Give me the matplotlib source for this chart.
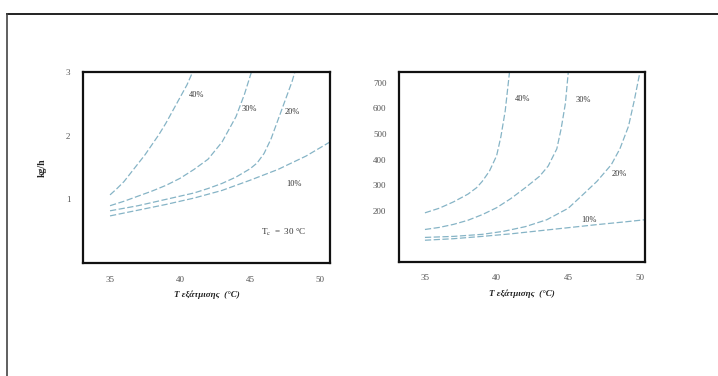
import matplotlib
matplotlib.use("Agg")
import matplotlib.pyplot as plt
from matplotlib.lines import Line2D

# ---- data ----
# left panel: kg/h against temperature, one curve per percentage
left_40_x = [35, 35.5, 36, 36.5, 37, 37.5, 38, 38.5, 39, 39.5, 40, 40.5, 40.9]
left_40_y = [1.07, 1.17, 1.28, 1.42, 1.56, 1.7, 1.86, 2.02, 2.2, 2.4, 2.6, 2.8, 3.0]
left_30_x = [35, 36, 37, 38, 39, 40, 41, 42, 43, 44, 44.6, 45.1]
left_30_y = [0.9, 0.97, 1.05, 1.13, 1.22, 1.33, 1.47, 1.63, 1.9, 2.3, 2.65, 3.0]
left_20_x = [35, 36, 37, 38, 39, 40, 41, 42, 43, 44, 45, 45.5, 46, 46.5, 47, 47.5, 48, 48.2]
left_20_y = [0.82, 0.86, 0.9, 0.95, 1.0, 1.05, 1.1, 1.17, 1.25, 1.35, 1.48, 1.57,
             1.72, 1.95, 2.25, 2.55, 2.85, 3.0]
left_10_x = [35, 37, 39, 41, 43, 45, 47, 49, 50.7]
left_10_y = [0.74, 0.83, 0.92, 1.02, 1.14, 1.3, 1.47, 1.68, 1.9]

# right panel
right_40_x = [35, 36, 37, 38, 38.6, 39, 39.5, 40, 40.3, 40.6, 40.9]
right_40_y = [192, 210, 235, 265, 290, 315, 355, 415, 490, 590, 742]
right_30_x = [35, 36, 37, 38, 39, 40, 41, 42, 43, 43.6, 44.2, 44.5, 44.8, 45.0]
right_30_y = [127, 135, 147, 163, 185, 212, 248, 290, 335, 375, 442, 520, 620, 742]
right_20_x = [35, 37, 39, 40.5, 42, 43.5, 45, 46, 47, 48, 48.6, 49.2, 49.6, 50]
right_20_y = [96, 100, 108, 120, 138, 165, 210, 262, 315, 380, 442, 530, 630, 742]
right_10_x = [35, 37, 39, 41, 43, 45, 47, 49, 50.35]
right_10_y = [85, 91, 100, 110, 122, 134, 146, 157, 165]

x_ticks = [35, 40, 45, 50]
left_yticks = [1, 2, 3]
right_yticks = [200, 300, 400, 500, 600, 700]
x_label = "T εξάτμισης  (°C)"

plt.rcParams['font.family'] = ['Liberation Serif', 'DejaVu Serif']
plt.rcParams['mathtext.fontset'] = 'stix'

line_col = '#86b4c6'
txt_col = '#333333'

fig = plt.figure(figsize=(7.18, 3.76), dpi=100)
fig.patch.set_facecolor('white')

ax1 = fig.add_axes([0.1156, 0.3005, 0.344, 0.508])
ax2 = fig.add_axes([0.5557, 0.3032, 0.3426, 0.5053])

# left panel curves
for xs, ys in [(left_40_x, left_40_y), (left_30_x, left_30_y),
               (left_20_x, left_20_y), (left_10_x, left_10_y)]:
    ax1.plot(xs, ys, color=line_col, lw=0.9, ls=(0, (5, 2)))
ax1.set_xlim(33.07, 50.71)
ax1.set_ylim(0, 3.0)
ax1.set_yticks(left_yticks)
ax1.set_xticks(x_ticks)
ax1.set_ylabel("kg/h", fontsize=7, fontweight='bold', labelpad=14, color='#222')

ax1.text(40.6, 2.6, "40%", fontsize=6, color=txt_col)
ax1.text(44.4, 2.39, "30%", fontsize=6, color=txt_col)
ax1.text(47.5, 2.34, "20%", fontsize=6, color=txt_col)
ax1.text(47.6, 1.21, "10%", fontsize=6, color=txt_col)
ax1.text(45.8, 0.45, "T$_{\\rm c}$  =  30 °C", fontsize=6.5, color=txt_col)

# right panel curves
for xs, ys in [(right_40_x, right_40_y), (right_30_x, right_30_y),
               (right_20_x, right_20_y), (right_10_x, right_10_y)]:
    ax2.plot(xs, ys, color=line_col, lw=0.9, ls=(0, (5, 2)))
ax2.set_xlim(33.19, 50.35)
ax2.set_ylim(0, 742)
ax2.set_yticks(right_yticks)
ax2.set_xticks(x_ticks)

ax2.text(41.3, 630, "40%", fontsize=6, color=txt_col)
ax2.text(45.5, 625, "30%", fontsize=6, color=txt_col)
ax2.text(48.0, 335, "20%", fontsize=6, color=txt_col)
ax2.text(45.9, 158, "10%", fontsize=6, color=txt_col)

for ax in (ax1, ax2):
    for s in ax.spines.values():
        s.set_linewidth(1.6)
        s.set_color('#111111')
    ax.tick_params(length=0, labelsize=6.5, labelcolor='#555555', pad=9)
    ax.set_xlabel(x_label, fontsize=6.5, fontstyle='italic',
                  fontweight='bold', color='#222', labelpad=5)

# outer frame of the scanned page (top and left edges)
fig.add_artist(Line2D([0.0098, 1.0], [0.963, 0.963], color='#222', lw=1.4,
                      transform=fig.transFigure))
fig.add_artist(Line2D([0.0098, 0.0098], [0.0, 0.963], color='#444', lw=1.2,
                      transform=fig.transFigure))

fig.savefig("out.png", dpi=100)
